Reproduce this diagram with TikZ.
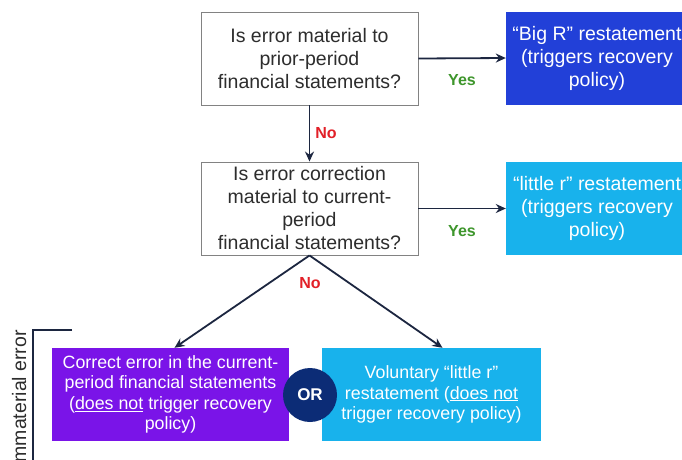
\documentclass[tikz,border=0pt]{standalone}
\usepackage{fontspec}
\setmainfont{Liberation Sans}
\usetikzlibrary{arrows.meta}

\definecolor{bigR}{RGB}{34,64,216}
\definecolor{littleR}{RGB}{24,178,236}
\definecolor{purplebox}{RGB}{122,20,232}
\definecolor{ornavy}{RGB}{12,44,118}
\definecolor{linenavy}{RGB}{28,38,64}
\definecolor{qborder}{RGB}{130,130,130}
\definecolor{qtext}{RGB}{45,45,45}
\definecolor{yesgreen}{RGB}{62,150,44}
\definecolor{nored}{RGB}{226,32,40}

\tikzset{
  question/.style={draw=qborder, line width=0.9pt, fill=white, text=qtext,
    minimum width=217pt, minimum height=93pt, inner sep=0pt,
    align=center, font=\fontsize{19.5}{23}\selectfont},
  outcome/.style={fill=#1, text=white, inner sep=0pt, align=center,
    minimum height=93pt, font=\fontsize{19.5}{23}\selectfont},
  finalbox/.style={fill=#1, text=white, inner sep=0pt, align=center,
    minimum height=93pt, font=\fontsize{17.8}{20.5}\selectfont},
  flow/.style={draw=linenavy, line width=1.8pt, -{Stealth[length=10pt,width=9pt]}},
  yeslbl/.style={text=yesgreen, font=\fontsize{16}{18}\selectfont\bfseries},
  nolbl/.style={text=nored, font=\fontsize{16}{18}\selectfont\bfseries},
}

\begin{document}
\begin{tikzpicture}[x=1pt, y=-1pt]
  \clip (0,0) rectangle (682,459);
  \fill[white] (0,0) rectangle (682,459);

  % decision boxes
  \node[question] (q1) at (309.5,58.5)
    {Is error material to\\prior-period\\financial statements?};
  \node[question] (q2) at (309.5,208.5)
    {Is error correction\\material to current-\\period\\financial statements?};

  % restatement outcomes
  \node[outcome=bigR, minimum width=182pt] (bigr) at (597,58)
    {“Big R” restatement\\(triggers recovery\\policy)};
  \node[outcome=littleR, minimum width=182pt] (littler) at (597,208.5)
    {“little r” restatement\\(triggers recovery\\policy)};

  % immaterial error paths
  \node[finalbox=purplebox, minimum width=237pt] (fix) at (170.5,394.5)
    {Correct error in the current-\\period financial statements\\(\underline{does not} trigger recovery\\policy)};
  \node[finalbox=littleR, minimum width=219pt] (vol) at (431.5,394.5)
    {Voluntary “little r”\\restatement (\underline{does not}\\trigger recovery policy)};
  \node[circle, fill=ornavy, minimum size=54pt, inner sep=0pt, text=white,
        font=\fontsize{17}{20}\selectfont\bfseries] (or) at (310,395) {OR};

  % connectors
  \draw[flow] (q1.east) -- (bigr.west);
  \draw[flow] (q1.south) -- (q2.north);
  \draw[flow] (q2.east) -- (littler.west);
  \draw[flow] (q2.south) -- ([xshift=4pt]fix.north);
  \draw[flow] (q2.south) -- ([xshift=11pt]vol.north);

  % branch labels
  \node[yeslbl] (y1) at (462,80) {Yes};
  \node[yeslbl] (y2) at (462,231) {Yes};
  \node[nolbl] (n1) at (326,133) {No};
  \node[nolbl] (n2) at (310,283) {No};

  % bracket for immaterial errors
  \coordinate (brtop) at (33,330);
  \coordinate (brend) at (72,330);
  \coordinate (brbot) at (33,470);
  \draw[linenavy, line width=2pt] (brend) -- (brtop) -- (brbot);
  \node[rotate=90, anchor=base, text=qtext,
        font=\fontsize{19.5}{23}\selectfont] (immat) at (26,399) {Immaterial error};
\end{tikzpicture}
\end{document}
